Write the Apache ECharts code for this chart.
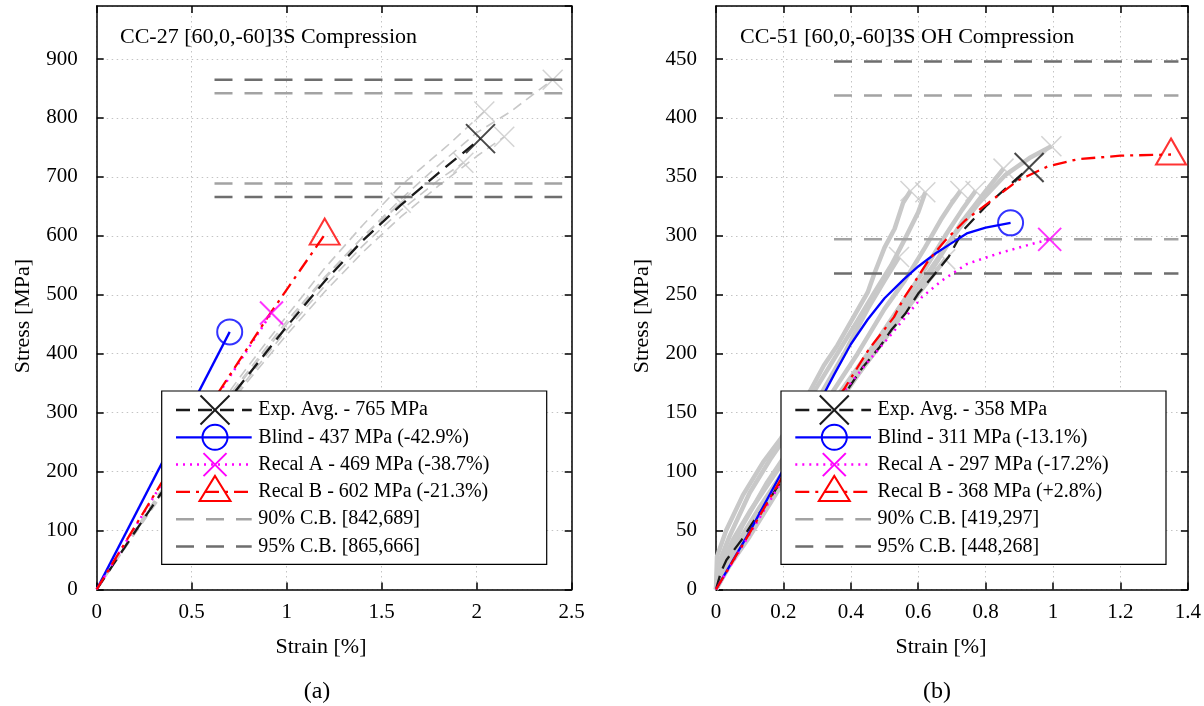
<!DOCTYPE html>
<html><head><meta charset="utf-8">
<script src="https://cdn.jsdelivr.net/npm/echarts@6/dist/echarts.min.js"></script>
<style>html,body{margin:0;padding:0;background:#fff}#c{width:1204px;height:706px}</style>
</head><body><div id="c"></div>
<script>
// ===== Panel (a): CC-27 [60,0,-60]3S Compression =====
const aTitle = 'CC-27 [60,0,-60]3S Compression';
const aExp1 = [[0,0],[0.2,98],[0.4,195],[0.6,288],[0.8,372],[1.0,455],[1.2,530],[1.4,598],[1.6,656]];
const aExp2 = [[0,0],[0.2,95],[0.4,188],[0.6,278],[0.8,360],[1.0,440],[1.2,515],[1.4,583],[1.6,643],[1.8,695],[1.93,724]];
const aExp3 = [[0,0],[0.2,100],[0.4,198],[0.6,293],[0.8,380],[1.0,464],[1.2,545],[1.4,618],[1.6,685],[1.86,757],[2.04,811]];
const aExp4 = [[0,0],[0.2,94],[0.4,186],[0.6,274],[0.8,355],[1.0,432],[1.2,505],[1.4,572],[1.6,632],[1.8,685],[2.0,735],[2.145,768]];
const aExp5 = [[0,0],[0.2,97],[0.4,192],[0.6,284],[0.8,368],[1.0,450],[1.2,527],[1.4,598],[1.6,662],[1.8,720],[2.0,775],[2.175,810],[2.40,865]];
const aAvg = [[0,0],[0.2,97],[0.4,192],[0.6,283],[0.8,365],[1.0,446],[1.2,523],[1.4,592],[1.6,652],[1.8,707],[2.02,765]];
const aBlind = [[0,0],[0.70,437]];
const aRecalA = [[0,0],[0.5,262],[0.92,469]];
const aRecalB = [[0,0],[0.5,265],[0.9,462],[1.2,602]];
const aCB90 = [842, 689];
const aCB95 = [865, 666];
const aCBSpan = [0.62, 2.45];
const aLegend = ['Exp. Avg. - 765 MPa','Blind - 437 MPa (-42.9%)','Recal A - 469 MPa (-38.7%)','Recal B - 602 MPa (-21.3%)','90% C.B. [842,689]','95% C.B. [865,666]'];

// ===== Panel (b): CC-51 [60,0,-60]3S OH Compression =====
const bTitle = 'CC-51 [60,0,-60]3S OH Compression';
const bExp1 = [[0,0],[0.003,28],[0.03,50],[0.08,80],[0.14,108],[0.19,127],[0.26,158],[0.32,190],[0.36,207],[0.41,232],[0.45,252],[0.47,268],[0.5,290],[0.53,306],[0.555,328],[0.577,338]];
const bExp2 = [[0,0],[0.005,20],[0.04,45],[0.1,82],[0.16,110],[0.22,135],[0.3,172],[0.36,200],[0.42,228],[0.47,252],[0.52,275],[0.56,297],[0.6,320],[0.621,337]];
const bExp3 = [[0,0],[0.01,18],[0.05,42],[0.1,66],[0.18,100],[0.26,132],[0.34,165],[0.42,200],[0.5,238],[0.56,262],[0.62,290],[0.67,315],[0.7,328],[0.725,338]];
const bExp4 = [[0,0],[0.02,15],[0.07,42],[0.13,70],[0.2,100],[0.3,140],[0.4,180],[0.48,212],[0.55,242],[0.62,272],[0.68,300],[0.73,322],[0.77,338]];
const bExp5 = [[0,0],[0.03,18],[0.08,40],[0.15,72],[0.22,102],[0.32,142],[0.42,182],[0.5,212],[0.58,245],[0.66,280],[0.73,312],[0.8,338],[0.853,357]];
const bExp6 = [[0,0],[0.04,20],[0.1,45],[0.18,82],[0.28,125],[0.38,165],[0.46,198],[0.54,232],[0.62,265],[0.7,298],[0.78,328],[0.86,352],[0.93,366],[0.995,376]];
const bExp7 = [[0,0],[0.02,20],[0.08,55],[0.15,90],[0.22,120],[0.3,160],[0.38,200],[0.45,238],[0.5,262],[0.543,282]];
const bExp8 = [[0,0],[0.03,16],[0.1,50],[0.2,95],[0.3,137],[0.4,175],[0.48,205],[0.55,232],[0.62,258],[0.68,280]];
const bAvg = [[0,0],[0.015,15],[0.031,25],[0.076,42],[0.11,57],[0.16,77],[0.2,95],[0.3,135],[0.38,165],[0.434,188],[0.484,205],[0.52,220],[0.562,234],[0.6,251],[0.65,268],[0.69,282],[0.734,305],[0.8,325],[0.867,342],[0.929,358]];
const bBlind = [[0,0],[0.1,49],[0.2,102],[0.3,155],[0.35,182],[0.4,208],[0.45,229],[0.5,247],[0.557,263],[0.6,274],[0.651,285],[0.7,294],[0.744,302],[0.8,307],[0.874,311]];
const bRecalA = [[0,0],[0.1,47],[0.2,94],[0.3,137],[0.38,168],[0.45,193],[0.513,214],[0.562,231],[0.611,248],[0.67,262],[0.744,276],[0.837,285],[0.936,293],[0.99,297]];
const bRecalB = [[0,0],[0.1,48],[0.2,97],[0.3,138],[0.38,170],[0.454,204],[0.528,231],[0.557,247],[0.592,262],[0.63,279],[0.68,296],[0.739,313],[0.808,328],[0.896,347],[0.985,359],[1.073,365],[1.2,368],[1.35,369]];
const bCB90 = [419, 297];
const bCB95 = [448, 268];
const bCBSpan = [0.35, 1.372];
const bLegend = ['Exp. Avg. - 358 MPa','Blind - 311 MPa (-13.1%)','Recal A - 297 MPa (-17.2%)','Recal B - 368 MPa (+2.8%)','90% C.B. [419,297]','95% C.B. [448,268]'];

// ===== styling =====
const FONT = 'Liberation Serif';
const XPATH = 'path://M0,0L20,20M20,0L0,20';
const ST = {
  avg:    {color:'#1a1a1a', width:2.3, dash:[14,8],      marker:'x',        size:29},
  blind:  {color:'#0000ff', width:2.3, dash:null,        marker:'circle',   size:25},
  recalA: {color:'#ff00ff', width:2.5, dash:[2,5],       marker:'x',        size:23},
  recalB: {color:'#ff0000', width:2.3, dash:[14,6,3,6],  marker:'triangle', size:[30,26]},
  cb90:   {color:'#a3a3a3', width:2.5, dash:[18,12]},
  cb95:   {color:'#6e6e6e', width:2.5, dash:[18,12]}
};
const GRAY = '#c8c8c8';

const grids = [
  {left:96.7, top:6, width:475, height:583.4},
  {left:716, top:6, width:474.7, height:583.4}
];

function xAx(grid, max, interval, pos){
  const main = pos === 'bottom';
  return {type:'value', gridIndex:grid, min:0, max:max, interval:interval, position:pos,
    axisLine:{show:true, onZero:false, lineStyle:{color:'#000', width:1.5}},
    axisTick:{show:true, inside:true, length:7, lineStyle:{color:'#000', width:1.5}},
    axisLabel:{show:main, color:'#000', fontFamily:FONT, fontSize:21, margin:13},
    splitLine:{show:main, lineStyle:{color:'#c4c4c4', width:1, type:[1.5,3.5]}}};
}
function yAx(grid, max, interval, pos){
  const main = pos === 'left';
  return {type:'value', gridIndex:grid, min:0, max:max, interval:interval, position:pos,
    axisLine:{show:true, onZero:false, lineStyle:{color:'#000', width:1.5}},
    axisTick:{show:true, inside:true, length:7, lineStyle:{color:'#000', width:1.5}},
    axisLabel:{show:main, color:'#000', fontFamily:FONT, fontSize:21, margin:19, showMaxLabel:false},
    splitLine:{show:main, lineStyle:{color:'#c4c4c4', width:1, type:[1.5,3.5]}}};
}

function lineS(data, xi, st, z){
  return {type:'line', xAxisIndex:xi, yAxisIndex:xi, data:data, symbol:'none', silent:true, z:z||3,
    lineStyle:{color:st.color, width:st.width, type:st.dash || 'solid'}};
}
function markerS(points, xi, st, z){
  const sym = st.marker === 'x' ? XPATH : st.marker;
  return {type:'scatter', xAxisIndex:xi, yAxisIndex:xi, data:points, symbol:sym, symbolSize:st.size,
    symbolOffset: st.marker === 'triangle' ? [0,-3] : [0,0], silent:true, z:z||5,
    itemStyle:{color:'rgba(0,0,0,0)', borderColor:st.color, borderWidth: st.mw || 2}};
}
const last = d => d[d.length-1];

function panelSeries(xi, exps, expWidth, expDash, avg, blind, recalA, recalB, cb90, cb95, span){
  const s = [];
  exps.forEach(e => s.push({type:'line', xAxisIndex:xi, yAxisIndex:xi, data:e, symbol:'none', silent:true, z:1,
    lineStyle:{color:GRAY, width:expWidth, type:expDash}}));
  s.push(markerS(exps.map(last), xi, {color:GRAY, marker:'x', size:20, mw:1.5}, 1));
  cb90.forEach(v => s.push(lineS([[span[0],v],[span[1],v]], xi, ST.cb90, 2)));
  cb95.forEach(v => s.push(lineS([[span[0],v],[span[1],v]], xi, ST.cb95, 2)));
  s.push(lineS(avg, xi, ST.avg, 3));
  s.push(lineS(blind, xi, ST.blind, 3));
  s.push(lineS(recalA, xi, ST.recalA, 3));
  s.push(lineS(recalB, xi, ST.recalB, 3));
  s.push(markerS([last(avg)], xi, ST.avg));
  s.push(markerS([last(blind)], xi, ST.blind));
  s.push(markerS([last(recalA)], xi, ST.recalA));
  s.push(markerS([last(recalB)], xi, ST.recalB));
  return s;
}

// xAxis/yAxis indices: 0 = panel a main, 1 = panel b main, 2 = panel a mirror, 3 = panel b mirror
const series = [].concat(
  panelSeries(0, [aExp1,aExp2,aExp3,aExp4,aExp5], 1.6, [10,6], aAvg, aBlind, aRecalA, aRecalB, aCB90, aCB95, aCBSpan),
  panelSeries(1, [bExp1,bExp2,bExp3,bExp4,bExp5,bExp6,bExp7,bExp8], 4.5, 'solid', bAvg, bBlind, bRecalA, bRecalB, bCB90, bCB95, bCBSpan)
);

function legendGraphic(x0, y0, labels){
  const els = [];
  els.push({type:'rect', z:100, shape:{x:x0, y:y0, width:385, height:173.3}, style:{fill:'#fff', stroke:'#000', lineWidth:1.2}});
  const keys = ['avg','blind','recalA','recalB','cb90','cb95'];
  keys.forEach((k,i) => {
    const st = ST[k]; const cy = y0 + 19 + i*27.3; const cx = x0 + 53.3;
    els.push({type:'line', z:101, shape:{x1:x0+14.3, y1:cy, x2:x0+90, y2:cy}, style:{stroke:st.color, lineWidth:st.width, lineDash:st.dash || null}});
    if (st.marker === 'x') {
      const h = st.size/2;
      els.push({type:'line', z:102, shape:{x1:cx-h, y1:cy-h, x2:cx+h, y2:cy+h}, style:{stroke:st.color, lineWidth:2}});
      els.push({type:'line', z:102, shape:{x1:cx-h, y1:cy+h, x2:cx+h, y2:cy-h}, style:{stroke:st.color, lineWidth:2}});
    } else if (st.marker === 'circle') {
      els.push({type:'circle', z:102, shape:{cx:cx, cy:cy, r:st.size/2}, style:{fill:'none', stroke:st.color, lineWidth:2}});
    } else if (st.marker === 'triangle') {
      els.push({type:'polygon', z:102, shape:{points:[[cx, cy-16],[cx-15.5, cy+9],[cx+15.5, cy+9]]}, style:{fill:'none', stroke:st.color, lineWidth:2}});
    }
    els.push({type:'text', z:102, x:x0+96.6, y:cy, style:{text:labels[i], font:'20px "Liberation Serif"', fill:'#000', textAlign:'left', textVerticalAlign:'middle', align:'left', verticalAlign:'middle'}});
  });
  return els;
}
function txt(x, y, text, size, align, rot){
  return {type:'text', z:100, x:x, y:y, rotation:rot||0, style:{text:text, font:size+'px "Liberation Serif"', fill:'#000',
    textAlign:align||'center', textVerticalAlign:'middle', align:align||'center', verticalAlign:'middle'}};
}

const graphic = [].concat(
  legendGraphic(161.7, 391, aLegend),
  legendGraphic(781, 391, bLegend),
  [
    txt(120, 37, aTitle, 22, 'left'),
    txt(740, 37, bTitle, 22, 'left'),
    txt(321, 647, 'Strain [%]', 22),
    txt(941, 647, 'Strain [%]', 22),
    txt(23, 316, 'Stress [MPa]', 22, 'center', Math.PI/2),
    txt(642, 316, 'Stress [MPa]', 22, 'center', Math.PI/2),
    txt(317, 692, '(a)', 24),
    txt(937, 692, '(b)', 24)
  ]
);

const chart = echarts.init(document.getElementById('c'), null, {renderer:'canvas'});
chart.setOption({
  animation:false,
  backgroundColor:'#fff',
  grid: grids,
  xAxis: [xAx(0, 2.5, 0.5, 'bottom'), xAx(1, 1.4, 0.2, 'bottom'), xAx(0, 2.5, 0.5, 'top'), xAx(1, 1.4, 0.2, 'top')],
  yAxis: [yAx(0, 990, 100, 'left'), yAx(1, 495, 50, 'left'), yAx(0, 990, 100, 'right'), yAx(1, 495, 50, 'right')],
  series: series,
  graphic: graphic
});
</script></body></html>
